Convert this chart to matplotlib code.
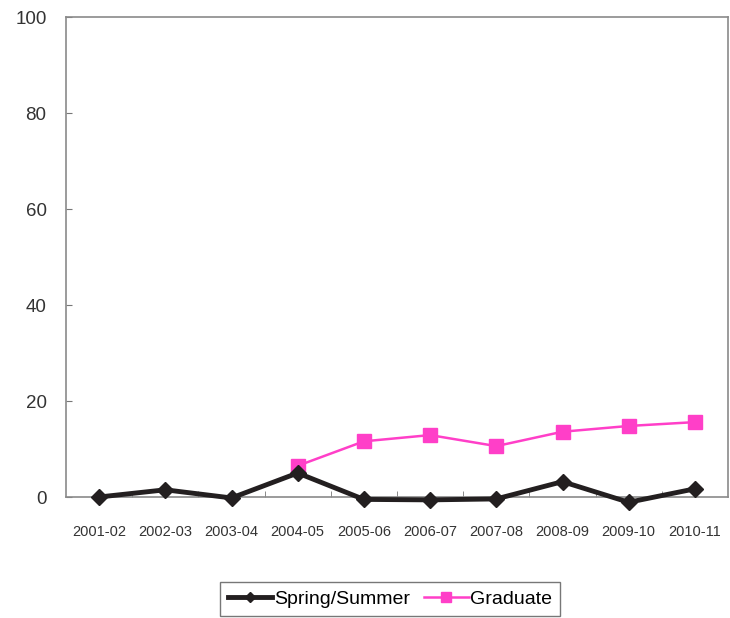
import matplotlib.pyplot as plt
import numpy as np

plt.rcParams['font.family'] = ['Liberation Sans', 'DejaVu Sans']

years = ["2001-02", "2002-03", "2003-04", "2004-05", "2005-06",
         "2006-07", "2007-08", "2008-09", "2009-10", "2010-11"]
spring_summer = [0, 1.5, -0.2, 5.0, -0.5, -0.6, -0.4, 3.2, -1.1, 1.7]
graduate = [None, None, None, 6.5, 11.6, 12.9, 10.6, 13.6, 14.8, 15.6]

x = np.arange(len(years))
grad = np.array([np.nan if v is None else v for v in graduate], dtype=float)

fig = plt.figure(figsize=(7.3, 6.18), dpi=100)
ax = fig.add_axes([66 / 730, 1 - 497 / 618, 662 / 730, 480 / 618])

ax.plot(x, spring_summer, color="#231f20", lw=3.5, marker="D", ms=8,
        label="Spring/Summer", zorder=3, clip_on=False)
ax.plot(x, grad, color="#ff3fc8", lw=1.8, marker="s", ms=10,
        label="Graduate", zorder=2, clip_on=False)

ax.set_xlim(-0.5, len(years) - 0.5)
ax.set_ylim(0, 100)
ax.set_yticks([0, 20, 40, 60, 80, 100])
ax.set_xticks(x)
ax.set_xticklabels(years, fontsize=10.5, color="#333333")
ax.set_xticks(np.arange(0.5, len(years) - 0.5, 1), minor=True)
ax.tick_params(axis="x", which="major", length=0, pad=20)
ax.tick_params(axis="x", which="minor", direction="in", length=4, color="#777777")
ax.tick_params(axis="y", direction="in", length=4, color="#777777",
               labelsize=13.5, labelcolor="#333333", pad=14)

for s in ax.spines.values():
    s.set_color("#8a8a8a")
    s.set_linewidth(1.2)

leg = fig.legend(loc="center", bbox_to_anchor=(390 / 730, 1 - 599 / 618),
                 ncol=2, fontsize=14, frameon=True, fancybox=False,
                 edgecolor="#555555", handlelength=2.3, columnspacing=0.7,
                 handletextpad=0.1, borderpad=0.4, markerscale=0.7)
leg.get_frame().set_linewidth(1.0)

fig.savefig("out.png", dpi=100)
